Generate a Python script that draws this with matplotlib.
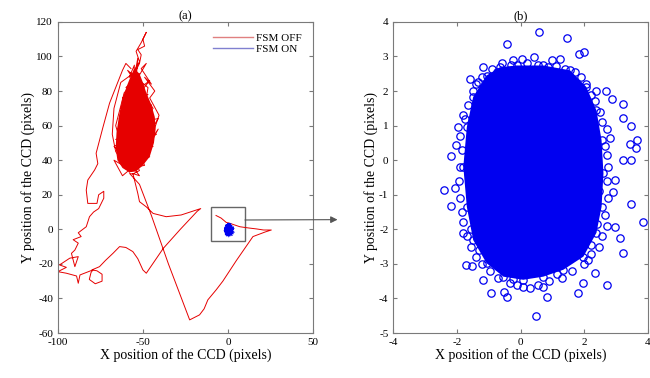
import numpy as np
import matplotlib
matplotlib.use("Agg")
import matplotlib.pyplot as plt
from matplotlib.lines import Line2D
from matplotlib.patches import Rectangle, ConnectionPatch

plt.rcParams['font.family'] = ['Liberation Serif', 'DejaVu Serif']
plt.rcParams['axes.unicode_minus'] = False

# ---- FSM OFF trajectory (pixels) ----
# box line -> far right -> bottom V -> up into the cluster
path_a = [(-7, 8), (-4, 6.5), (-1, 4), (1, 3.5), (4, 2.5), (7, 1.5), (12, 0.8),
          (17, 0.2), (21, -0.4), (25.5, -0.4), (22, -1.5), (14.7, -4.2), (5, -18),
          (-3, -30), (-6.9, -35), (-11.8, -40.8), (-14, -46), (-16.7, -49.5),
          (-22.5, -52.4), (-35, -20), (-45, 8), (-52, 26), (-57.8, 32.3)]
# dense wander around (-55, 60)
cluster = [(-56, 32), (-52, 34), (-58, 45), (-48, 60), (-61, 68), (-46, 86),
           (-57, 78), (-53, 99), (-56, 62), (-41, 64), (-50, 50), (-64, 44),
           (-44, 70), (-59, 92), (-47, 82), (-54, 40), (-62, 58), (-45, 52),
           (-58, 33), (-55, 95), (-58, 88), (-52, 90), (-60, 82), (-50, 84),
           (-62, 76), (-47, 78), (-63, 70), (-45, 72), (-64, 64), (-44, 66),
           (-65, 58), (-43, 60), (-66, 52), (-42, 55), (-65, 46), (-44, 48),
           (-63, 40), (-46, 42), (-60, 35), (-49, 37), (-55, 50), (-60, 72),
           (-49, 68), (-57, 86), (-52, 96), (-51, 101), (-53, 104), (-49, 106),
           (-50, 110), (-48, 114), (-51, 108), (-54, 103), (-52, 97), (-56, 90),
           (-63, 85), (-67, 70), (-68, 55), (-66, 45), (-60, 36), (-67, 40),
           (-62, 31), (-56, 36), (-41, 58), (-47, 47), (-40.5, 66), (-46, 76),
           (-43, 80), (-49, 88), (-45, 84), (-51, 93), (-48, 96), (-54, 86),
           (-61, 79), (-66, 60), (-63, 50), (-67, 48), (-59, 40), (-52, 31),
           (-55.9, 32.3)]
# second exit: bottom of cluster -> right -> down-left -> lower left loops
path_b = [(-53, 20.8), (-52, 16), (-48, 13), (-44, 9.2), (-36.3, 7.3),
          (-27.5, 8.3), (-21.6, 10.2), (-16, 12), (-18, 10.5), (-28, 0),
          (-38, -11), (-48, -25.4), (-50, -23.5), (-53, -17), (-55.9, -12.9),
          (-60, -10.5), (-63.7, -10), (-67.6, -13.9), (-72, -18), (-75.5, -21.6),
          (-80, -23.5), (-77, -24), (-74, -26), (-74, -30), (-78, -31.5),
          (-81.5, -29), (-80.5, -25), (-79.4, -23.5), (-87, -26.4), (-88, -31.2),
          (-89, -27), (-95, -25.4), (-100, -24.5), (-95, -22), (-99, -20.6),
          (-93, -16.7), (-88, -15.8), (-90, -21.6), (-92, -13.9), (-90, -12),
          (-88, -8), (-91, -6), (-86.3, -4.2), (-88, -2), (-83.3, 1.5),
          (-81.4, 7.3), (-79, 10), (-76, 12), (-73, 18), (-73, 22), (-76, 20),
          (-77, 15), (-82.4, 15), (-83.3, 22.7), (-82.4, 28.5), (-78.4, 34.3),
          (-76.5, 38), (-77.5, 44), (-73.5, 59), (-69.6, 73), (-66, 82),
          (-62, 92), (-60, 96), (-57, 93)]
off_x = [p[0] for p in path_a + cluster + path_b]
off_y = [p[1] for p in path_a + cluster + path_b]

# solid red core of the cluster
core_x = [-55, -52, -50, -48, -45, -43, -42.5, -43.5, -46, -50, -54, -58, -62,
          -65, -66, -65.5, -64, -62, -59, -57]
core_y = [93, 90, 85, 79, 72, 65, 58, 50, 42, 37, 33.5, 33, 35.5, 40, 47, 56,
          66, 76, 84, 89]

# ---- FSM ON (pixels) ----
blob_x = [-0.13, 0.71, 1.55, 2.06, 2.38, 2.54, 2.60, 2.54, 2.38, 1.97, 1.34,
          0.71, 0.08, -0.54, -1.07, -1.49, -1.69, -1.80, -1.69, -1.49, -1.07, -0.65]
blob_y = [2.74, 2.74, 2.60, 2.12, 1.44, 0.58, -0.38, -1.35, -2.10, -2.79, -3.17,
          -3.37, -3.46, -3.37, -2.98, -2.31, -1.35, -0.19, 0.96, 1.83, 2.45, 2.69]

on_x = [0.59, -0.44, 1.47, 0.42, -0.25, 0.03, 0.97, 1.23, 1.84, 1.99, -1.19, -1.59,
        -1.33, 2.38, 2.68, 2.88, 3.22, 3.22, 3.48, -1.96, -2.03, -2.20, 3.64, 3.62,
        3.43, 3.22, 3.48, -2.40, -2.06, -2.20, 3.48, 3.83, -1.82, 3.12, 3.22, -1.72,
        -1.54, -1.17, -0.93, -0.44, -0.52, 0.08, 0.48, 0.82, 0.71, 1.81, 1.97, 2.72,
        2.33, 2.10, 2.96, 2.96, 2.90, 2.70, 2.82, -1.64,
        -0.9, -0.6, -0.3, 0.2, 0.55, 0.85, 1.1, 1.4, 1.7, 1.9, 2.05, 2.2, 2.35, 2.5,
        2.55, 2.7, 2.65, 2.75, 2.7, 2.75, 2.65, 2.7, 2.55, 2.45, 2.2, 2.0, 1.6, 1.3,
        0.9, 0.55, 0.3, -0.1, -0.35, -0.7, -0.95, -1.2, -1.4, -1.55, -1.7, -1.8,
        -1.85, -1.9, -1.95, -1.9, -1.85, -1.9, -1.75, -1.8, -1.65, -1.5, -1.4, -1.2,
        -0.75, 0.35, 1.25, 2.3, 2.45, 2.4, 2.2, 1.15, -0.25, -1.3, -1.6, -1.55]
on_y = [3.70, 3.37, 3.54, 2.98, 2.89, 2.93, 2.90, 2.93, 3.08, 3.13, 2.70, 2.36,
        2.26, 2.00, 2.00, 1.76, 1.62, 1.23, 0.98, 0.96, 0.45, 0.13, 0.58, 0.34,
        0.48, 0.00, 0.00, -0.85, -0.80, -1.33, -1.28, -1.78, -2.10, -2.26, -2.69,
        -3.03, -3.07, -3.46, -3.83, -3.95, -3.80, -3.66, -4.50, -3.95, -3.66, -3.84,
        -3.56, -3.60, -3.27, -2.90, -1.93, -0.58, -0.91, 0.14, 0.65, -0.38,
        2.65, 2.8, 2.75, 2.8, 2.75, 2.7, 2.72, 2.65, 2.55, 2.4, 2.2, 1.9, 1.7, 1.4,
        1.1, 0.9, 0.4, -0.2, -0.6, -1.1, -1.6, -1.9, -2.2, -2.5, -2.7, -3.0, -3.2,
        -3.4, -3.5, -3.6, -3.7, -3.6, -3.55, -3.4, -3.2, -3.0, -2.8, -2.5, -2.2,
        -1.8, -1.5, -1.1, -0.6, -0.2, 0.3, 0.7, 1.2, 1.3, 1.6, 2.0, 2.2, 2.4,
        2.55, 2.62, 2.45, 1.0, -0.9, -1.85, -2.45, -3.3, -3.45, -2.6, 0.1, -2.0]

red = '#e60000'
blue = '#0000f0'
frame = '#7a7a7a'

fig = plt.figure(figsize=(6.5, 3.78), dpi=100)
ax1 = fig.add_axes([0.089, 0.119, 0.3925, 0.823])
ax2 = fig.add_axes([0.605, 0.119, 0.392, 0.823])

# panel (a)
ax1.fill(core_x, core_y, color=red, lw=0)
ax1.plot(off_x, off_y, color=red, lw=0.7)
ax1.fill(blob_x, blob_y, color=blue, lw=0)
ax1.plot(on_x, on_y, color=blue, lw=0.4)
ax1.add_patch(Rectangle((-10, -7), 20, 20, fill=False, ec='#666666', lw=1.0))
ax1.set_xlim(-100, 50)
ax1.set_ylim(-60, 120)
ax1.set_xticks([-100, -50, 0, 50])
ax1.set_yticks(np.arange(-60, 121, 20))
ax1.set_title('(a)', fontsize=9, pad=2)
ax1.set_xlabel('X position of the CCD (pixels)', fontsize=10, labelpad=1)
ax1.set_ylabel('Y position of the CCD (pixels)', fontsize=10, labelpad=1)
ax1.legend([Line2D([], [], color='#e08080', lw=1), Line2D([], [], color='#8080d0', lw=1)],
           ['FSM OFF', 'FSM ON'], loc='upper right', frameon=False, fontsize=8,
           handlelength=3.6, handletextpad=0.3, labelspacing=0.1,
           borderaxespad=0.6)

# panel (b)
ax2.fill(blob_x, blob_y, color=blue, lw=0)
ax2.plot(blob_x, blob_y, 'o', mfc='none', mec=blue, ms=5.3, mew=0.9)
ax2.plot(on_x, on_y, 'o', mfc='none', mec=blue, ms=5.3, mew=0.9)
ax2.set_xlim(-4, 4)
ax2.set_ylim(-5, 4)
ax2.set_xticks([-4, -2, 0, 2, 4])
ax2.set_yticks(np.arange(-5, 5, 1))
ax2.set_title('(b)', fontsize=9, pad=2)
ax2.set_xlabel('X position of the CCD (pixels)', fontsize=10, labelpad=1)
ax2.set_ylabel('Y position of the CCD (pixels)', fontsize=10, labelpad=1)

for ax in (ax1, ax2):
    ax.tick_params(direction='in', top=True, right=True, labelsize=8,
                   length=3, color=frame, pad=3.5)
    for s in ax.spines.values():
        s.set_color(frame)
        s.set_linewidth(0.8)

arrow = ConnectionPatch(xyA=(10, 5.4), coordsA=ax1.transData,
                        xyB=(-5.75, -1.72), coordsB=ax2.transData,
                        arrowstyle='-|>', mutation_scale=10, color='#555555', lw=0.8)
fig.add_artist(arrow)

fig.savefig('out.png', dpi=100)
